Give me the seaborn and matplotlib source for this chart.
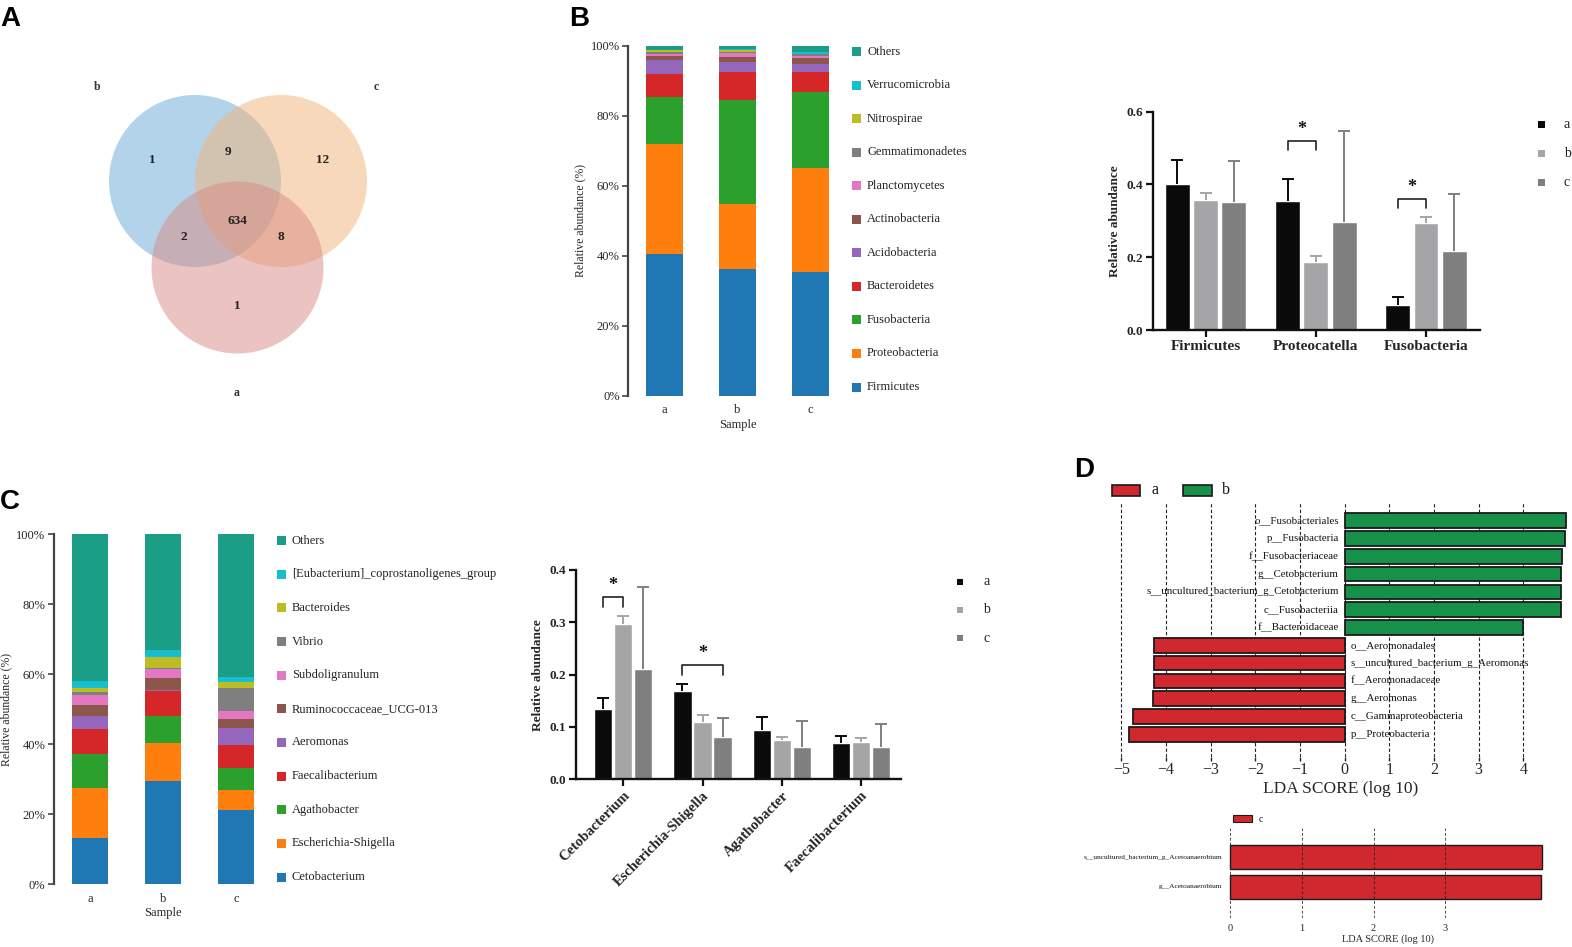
import numpy as np
import pandas as pd
import matplotlib
matplotlib.use('Agg')
import matplotlib.pyplot as plt
from matplotlib.patches import Circle, Rectangle
import seaborn as sns

W, H = 1572, 947

# ---------------- data ----------------
groups = ['a', 'b', 'c']

# Venn (OTUs)
venn_regions = ['b', 'bc', 'c', 'abc', 'ab', 'ac', 'a']
venn_counts = [1, 9, 12, 634, 2, 8, 1]

# phylum level relative abundance (%)
phyla = ['Firmicutes', 'Proteobacteria', 'Fusobacteria', 'Bacteroidetes', 'Acidobacteria',
         'Actinobacteria', 'Planctomycetes', 'Gemmatimonadetes', 'Nitrospirae',
         'Verrucomicrobia', 'Others']
phylum_a = [40.5, 31.5, 13.3, 6.5, 4.0, 1.3, 0.6, 0.5, 0.5, 0.2, 1.1]
phylum_b = [36.1, 18.8, 29.5, 8.1, 2.9, 1.3, 1.2, 0.4, 0.4, 0.3, 1.0]
phylum_c = [35.3, 29.7, 21.9, 5.5, 2.5, 1.6, 0.5, 0.5, 0.2, 0.5, 1.8]

# genus level relative abundance (%)
genera = ['Cetobacterium', 'Escherichia-Shigella', 'Agathobacter', 'Faecalibacterium',
          'Aeromonas', 'Ruminococcaceae_UCG-013', 'Subdoligranulum', 'Vibrio', 'Bacteroides',
          '[Eubacterium]_coprostanoligenes_group', 'Others']
genus_a = [13.1, 14.5, 9.7, 7.2, 3.6, 3.1, 3.0, 0.7, 1.3, 1.9, 41.9]
genus_b = [29.5, 11.0, 7.7, 7.1, 0.2, 3.4, 2.7, 0.2, 3.1, 1.9, 33.2]
genus_c = [21.2, 5.8, 6.2, 6.5, 5.0, 2.5, 2.2, 6.6, 1.7, 1.5, 40.8]

stack_colors = ['#1f77b4', '#ff7f0e', '#2ca02c', '#d62728', '#9467bd', '#8c564b',
                '#e377c2', '#7f7f7f', '#bcbd22', '#17becf', '#1a9e85']

# top phyla, mean and sd
top_phyla = ['Firmicutes', 'Proteocatella', 'Fusobacteria']
phy_mean_a = [0.400, 0.354, 0.070]
phy_sd_a = [0.068, 0.060, 0.021]
phy_mean_b = [0.358, 0.186, 0.295]
phy_sd_b = [0.018, 0.018, 0.016]
phy_mean_c = [0.352, 0.297, 0.216]
phy_sd_c = [0.112, 0.250, 0.157]
phy_sig = [(1, 0, 1, 0.52), (2, 0, 1, 0.36)]  # (taxon idx, group1, group2, height)

# top genera, mean and sd
top_genera = ['Cetobacterium', 'Escherichia-Shigella', 'Agathobacter', 'Faecalibacterium']
gen_mean_a = [0.135, 0.168, 0.095, 0.069]
gen_sd_a = [0.021, 0.014, 0.024, 0.013]
gen_mean_b = [0.296, 0.109, 0.075, 0.071]
gen_sd_b = [0.016, 0.013, 0.005, 0.008]
gen_mean_c = [0.211, 0.081, 0.061, 0.062]
gen_sd_c = [0.157, 0.036, 0.050, 0.044]
gen_sig = [(0, 0, 1, 0.348), (1, 0, 2, 0.218)]

gray_colors = ['#0a0a0a', '#a5a5a8', '#7f7f7f']

# LEfSe a vs b
lda_taxa = ['o__Fusobacteriales', 'p__Fusobacteria', 'f__Fusobacteriaceae', 'g__Cetobacterium',
            's__uncultured_bacterium_g_Cetobacterium', 'c__Fusobacteriia', 'f__Bacteroidaceae',
            'o__Aeromonadales', 's__uncultured_bacterium_g_Aeromonas', 'f__Aeromonadaceae',
            'g__Aeromonas', 'c__Gammaproteobacteria', 'p__Proteobacteria']
lda_score = [4.95, 4.93, 4.87, 4.84, 4.84, 4.84, 4.00, -4.26, -4.26, -4.26, -4.28, -4.75, -4.83]
lda_group = ['b'] * 7 + ['a'] * 6

# LEfSe c
lda_c_taxa = ['s__uncultured_bacterium_g_Acetoanaerobium', 'g__Acetoanaerobium']
lda_c_score = [4.35, 4.34]
lda_c_group = ['c', 'c']

lda_red = '#d0282e'
lda_green = '#17904a'

# ---------------- figure ----------------
sns.set_theme(style='white')
plt.rcParams['font.family'] = ['Liberation Serif', 'DejaVu Serif']
plt.rcParams['axes.unicode_minus'] = True

fig = plt.figure(figsize=(W / 100, H / 100), dpi=100)


def px_axes(x0, y0, x1, y1):
    return fig.add_axes([x0 / W, 1 - y1 / H, (x1 - x0) / W, (y1 - y0) / H])


# ---- A: venn ----
axv = px_axes(0, 0, 480, 440)
axv.set_xlim(0, 480)
axv.set_ylim(440, 0)
axv.axis('off')
circ = {'b': (195, 181), 'c': (281, 181), 'a': (237.5, 267.5)}
circ_col = {'b': '#69a9d8', 'c': '#f2b276', 'a': '#d98a84'}
for s in ['b', 'c', 'a']:
    axv.add_patch(Circle(circ[s], 86, facecolor=circ_col[s], alpha=0.5, lw=0))
lab_pos = {'b': (97, 87), 'c': (376, 87), 'a': (237, 393)}
for s, p in lab_pos.items():
    axv.text(p[0], p[1], s, ha='center', va='center', fontsize=8.5, fontweight='bold', color='#333')
reg_pos = {'b': (152, 160), 'bc': (228, 152), 'c': (323, 160), 'abc': (237, 221),
           'ab': (184, 237), 'ac': (281, 237), 'a': (237, 306)}
for r, n in zip(venn_regions, venn_counts):
    axv.text(reg_pos[r][0], reg_pos[r][1], str(n), ha='center', va='center',
             fontsize=9.5, fontweight='bold', color='#222')


# ---- stacked bars ----
def stacked(ax, names, cols):
    df = pd.DataFrame(dict(zip(groups, cols)), index=names)
    x = np.arange(len(groups))
    bottom = np.zeros(len(groups))
    for name, col in zip(names, stack_colors):
        vals = df.loc[name].values
        ax.bar(x, vals, bottom=bottom, width=0.5, color=col, lw=0)
        bottom += vals
    ax.set_xlim(-0.5, 2.5)
    ax.set_ylim(0, 100)
    ax.set_yticks(range(0, 101, 20))
    ax.set_yticklabels([f'{v}%' for v in range(0, 101, 20)], fontsize=9)
    ax.set_xticks(x)
    ax.set_xticklabels(groups, fontsize=9)
    for sp in ['top', 'right', 'bottom']:
        ax.spines[sp].set_visible(False)
    ax.spines['left'].set_color('#444444')
    ax.spines['left'].set_linewidth(1.6)
    ax.tick_params(axis='y', direction='out', length=4, width=1.2, color='#444', pad=2, left=True)
    ax.tick_params(axis='x', length=0, pad=6)
    ax.set_ylabel('Relative abundance (%)', fontsize=8.5, labelpad=3)
    ax.set_xlabel('Sample', fontsize=9, labelpad=2)
    ax.grid(False)


ax_bs = px_axes(628, 45.7, 847, 395.7)
stacked(ax_bs, phyla, [phylum_a, phylum_b, phylum_c])
ax_cs = px_axes(53.5, 534.3, 272.5, 884.3)
stacked(ax_cs, genera, [genus_a, genus_b, genus_c])


# ---- grouped bars with sd (upper whisker only) ----
def grouped(ax, taxa, means, sds, sig, width, gap, ymax, ystep, drop, star_off):
    rows = []
    for g, m, s in zip(groups, means, sds):
        for t, mv, sv in zip(taxa, m, s):
            rows.append({'taxon': t, 'group': g, 'mean': mv, 'sd': sv})
    df = pd.DataFrame(rows)
    sns.barplot(data=df, x='taxon', y='mean', hue='group', order=taxa, hue_order=groups,
                palette=gray_colors, width=width, gap=gap, errorbar=None, legend=False,
                saturation=1, ax=ax)
    step = width / len(groups)
    offs = (np.arange(len(groups)) - 1) * step
    for i, g in enumerate(groups):
        d = df[df['group'] == g]
        xs = np.arange(len(taxa)) + offs[i]
        top = d['mean'].values + d['sd'].values
        ax.vlines(xs, d['mean'].values, top, color=gray_colors[i], lw=1.4, zorder=1)
        ax.plot(xs, top, ls='none', marker='_', markersize=9, mew=1.4,
                color=gray_colors[i], zorder=1)
    for t, g1, g2, h in sig:
        x1, x2 = t + offs[g1], t + offs[g2]
        ax.plot([x1, x1, x2, x2], [h - drop, h, h, h - drop], color='#222', lw=1.2)
        ax.text((x1 + x2) / 2, h + star_off, '*', ha='center', va='center',
                fontsize=13, fontweight='bold', color='#111')
    ax.set_ylim(0, ymax)
    ticks = np.arange(0, ymax + 1e-9, ystep)
    ax.set_yticks(ticks)
    ax.set_yticklabels([f'{v:.1f}' for v in ticks], fontweight='bold', fontsize=9.5)
    sns.despine(ax=ax)
    for sp in ['left', 'bottom']:
        ax.spines[sp].set_color('#111')
        ax.spines[sp].set_linewidth(1.7)
    ax.tick_params(axis='both', direction='out', length=5, width=1.6, color='#111',
                   left=True, bottom=True, pad=2)
    ax.set_xlabel('')
    ax.set_ylabel('Relative abundance', fontweight='bold', fontsize=9.5, labelpad=4)
    ax.grid(False)


ax_bb = px_axes(1152.7, 111.7, 1480, 330)
grouped(ax_bb, top_phyla, [phy_mean_a, phy_mean_b, phy_mean_c], [phy_sd_a, phy_sd_b, phy_sd_c],
        phy_sig, 0.77, 0.12, 0.6, 0.2, 0.024, 0.032)
ax_bb.set_xlim(-0.48, 2.49)
ax_bb.set_xticks(range(len(top_phyla)))
ax_bb.set_xticklabels(top_phyla, fontweight='bold', fontsize=11)

ax_cb = px_axes(575.7, 570, 900.7, 779.3)
grouped(ax_cb, top_genera, [gen_mean_a, gen_mean_b, gen_mean_c], [gen_sd_a, gen_sd_b, gen_sd_c],
        gen_sig, 0.76, 0.09, 0.4, 0.1, 0.019, 0.022)
ax_cb.set_xlim(-0.6, 3.5)
ax_cb.set_xticks(range(len(top_genera)))
ax_cb.set_xticklabels(top_genera, fontweight='bold', fontsize=10.5, rotation=45,
                      ha='right', rotation_mode='anchor')


# ---- D: LDA ----
ax_d = px_axes(1112.4, 503, 1568, 756.7)
for v in range(-5, 5):
    ax_d.axvline(v, color='#222', lw=0.8, ls=(0, (3, 2)), zorder=0)
sns.barplot(x=lda_score, y=lda_taxa, hue=lda_group, palette={'a': lda_red, 'b': lda_green},
            dodge=False, width=0.82, edgecolor='#1a1a1a', linewidth=1.3, legend=False,
            saturation=1, orient='h', ax=ax_d, zorder=2)
for i, (t, s) in enumerate(zip(lda_taxa, lda_score)):
    if s > 0:
        ax_d.text(-0.13, i, t, ha='right', va='center', fontsize=7.8, color='#111')
    else:
        ax_d.text(0.13, i, t, ha='left', va='center', fontsize=7.8, color='#111')
ax_d.set_xlim(-5.2, 5.0)
ax_d.set_ylim(13.26, -0.99)
ax_d.set_yticks([])
ax_d.set_ylabel('')
ax_d.set_xticks(range(-5, 5))
ax_d.tick_params(axis='x', labelsize=11.5, length=3, width=1, color='#222', bottom=True, pad=1)
ax_d.set_xlabel('LDA SCORE (log 10)', fontsize=12.5, labelpad=2)
for sp in ax_d.spines.values():
    sp.set_visible(False)
ax_d.grid(False)

ax_d2 = px_axes(1226, 828, 1550, 918)
sns.barplot(x=lda_c_score, y=lda_c_taxa, hue=lda_c_group, palette={'c': lda_red},
            dodge=False, width=0.82, edgecolor='#1a1a1a', linewidth=1.0, legend=False,
            saturation=1, orient='h', ax=ax_d2, zorder=2)
for v in range(0, 4):
    ax_d2.axvline(v, color='#222', lw=0.7, ls=(0, (3, 2)), zorder=3, alpha=0.8)
for i, t in enumerate(lda_c_taxa):
    ax_d2.text(-0.11, i, t, ha='right', va='center', fontsize=5.3, color='#111')
ax_d2.set_xlim(-0.056, 4.46)
ax_d2.set_ylim(2.06, -1.0)
ax_d2.set_yticks([])
ax_d2.set_ylabel('')
ax_d2.set_xticks(range(0, 4))
ax_d2.tick_params(axis='x', labelsize=7.5, length=0, pad=4)
ax_d2.set_xlabel('LDA SCORE (log 10)', fontsize=7.5, labelpad=1)
for sp in ax_d2.spines.values():
    sp.set_visible(False)
ax_d2.grid(False)

# ---- overlay: legends and panel letters (pixel coords) ----
ov = fig.add_axes([0, 0, 1, 1])
ov.set_xlim(0, W)
ov.set_ylim(H, 0)
ov.axis('off')


def square(x, y, s, col, ec='none', lw=0):
    ov.add_patch(Rectangle((x - s / 2, y - s / 2), s, s, facecolor=col, edgecolor=ec, lw=lw))


for names, mx, tx, y0, dy in [(phyla, 856.5, 867, 51.5, 33.55), (genera, 281.5, 292, 540.7, 33.63)]:
    for i, (name, col) in enumerate(zip(names[::-1], stack_colors[::-1])):
        y = y0 + i * dy
        square(mx, y, 9, col)
        ov.text(tx, y, name, ha='left', va='center', fontsize=9, color='#222')

for mx, tx, ys, s in [(1541.7, 1564, [124, 153, 182.7], 7), (959.7, 983, [581.7, 609.7, 638.3], 6)]:
    for g, col, y in zip(groups, gray_colors, ys):
        square(mx, y, s, col)
        ov.text(tx, y, g, ha='left', va='center', fontsize=10, color='#222')

ov.add_patch(Rectangle((1112, 484.5), 28, 11, facecolor=lda_red, edgecolor='#1a1a1a', lw=1.2))
ov.text(1151, 490, 'a', ha='left', va='center', fontsize=11.5, color='#111')
ov.add_patch(Rectangle((1183, 484.5), 28.5, 11, facecolor=lda_green, edgecolor='#1a1a1a', lw=1.2))
ov.text(1222, 490, 'b', ha='left', va='center', fontsize=11.5, color='#111')
ov.add_patch(Rectangle((1233, 815), 19, 7, facecolor=lda_red, edgecolor='#1a1a1a', lw=0.8))
ov.text(1259, 819, 'c', ha='left', va='center', fontsize=7, color='#111')

for letter, x, y in [('A', 0, 26), ('B', 569, 26), ('C', 0, 509), ('D', 1074, 477)]:
    ov.text(x, y, letter, ha='left', va='baseline', fontsize=20, fontweight='bold',
            family=['Liberation Sans', 'DejaVu Sans'], color='black')

fig.savefig('out.png', dpi=100)
